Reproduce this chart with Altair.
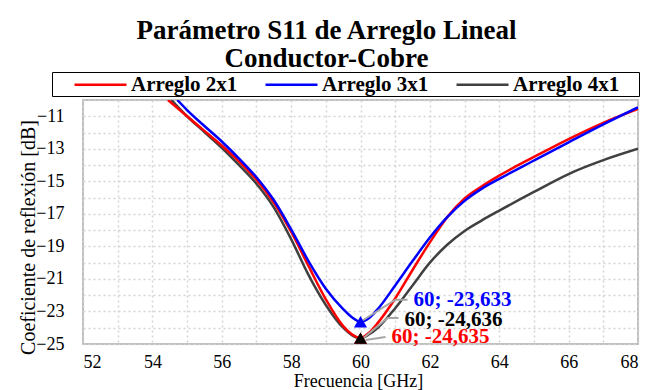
import altair as alt
import pandas as pd

series_names = ["Arreglo 2x1", "Arreglo 3x1", "Arreglo 4x1"]
series_colors = ["#ff0000", "#0000ff", "#404040"]

# Arreglo 2x1 (red)
freq_2x1 = [54.45, 55.0, 55.5, 56.0, 56.5, 57.0, 57.5, 58.0, 58.5, 59.0, 59.5, 59.75, 60.0,
            60.25, 60.5, 61.0, 61.5, 62.0, 62.5, 63.0, 63.5, 64.0, 65.0, 66.0, 67.0, 68.0]
s11_2x1 = [-10.0, -11.0, -11.9, -12.8, -13.78, -14.9, -16.3, -18.1, -20.2, -22.25, -23.9, -24.4, -24.635,
           -24.3, -23.7, -22.2, -20.45, -18.75, -17.2, -16.05, -15.3, -14.65, -13.5, -12.4, -11.4, -10.55]

# Arreglo 3x1 (blue)
freq_3x1 = [54.72, 55.0, 55.5, 56.0, 56.5, 57.0, 57.5, 58.0, 58.5, 59.0, 59.5, 59.75, 60.0,
            60.25, 60.5, 61.0, 61.5, 62.0, 62.5, 63.0, 63.5, 64.0, 65.0, 66.0, 67.0, 68.0]
s11_3x1 = [-10.0, -10.62, -11.6, -12.55, -13.6, -14.75, -16.15, -17.95, -19.9, -21.6, -22.85, -23.35, -23.633,
           -23.4, -22.85, -21.4, -19.9, -18.45, -17.2, -16.2, -15.45, -14.85, -13.72, -12.6, -11.5, -10.45]

# Arreglo 4x1 (dark grey)
freq_4x1 = [54.55, 55.0, 55.5, 56.0, 56.5, 57.0, 57.5, 58.0, 58.5, 59.0, 59.5, 59.75, 60.0,
            60.25, 60.5, 61.0, 61.5, 62.0, 62.5, 63.0, 63.5, 64.0, 65.0, 66.0, 67.0, 68.0]
s11_4x1 = [-10.0, -11.0, -11.97, -12.94, -14.01, -15.15, -16.6, -18.55, -20.75, -22.6, -24.0, -24.45, -24.636,
           -24.4, -24.0, -22.8, -21.4, -20.0, -18.9, -18.05, -17.4, -16.8, -15.65, -14.55, -13.7, -13.0]

# Minimum markers (drawn blue, red, black)
marker_series = ["Arreglo 3x1", "Arreglo 2x1", "Arreglo 4x1"]
marker_freq = [60, 60, 60]
marker_s11 = [-23.633, -24.635, -24.636]
marker_colors = ["#0000ff", "#ff0000", "#000000"]
marker_labels = ["60; -23,633", "60; -24,635", "60; -24,636"]

# label / leader offsets in pixels (style)
label_dx = [53, 31, 44]
label_dy = [-22, -1, -18]
leader_px = [
    [(0, 0), (35, -22), (47, -22)],
    [(5, 2), (25, -1)],
    [(3, 0), (27, -20), (38, -20)],
]

W, H = 555, 244
X_DOM = [52, 68]
Y_DOM = [-25, -10]
px_x = W / (X_DOM[1] - X_DOM[0])
px_y = H / (Y_DOM[1] - Y_DOM[0])

rows = []
for name, fx, fy in [("Arreglo 2x1", freq_2x1, s11_2x1),
                     ("Arreglo 3x1", freq_3x1, s11_3x1),
                     ("Arreglo 4x1", freq_4x1, s11_4x1)]:
    for a, b in zip(fx, fy):
        rows.append({"series": name, "freq": a, "s11": b})
curves = pd.DataFrame(rows)

markers = pd.DataFrame({
    "series": marker_series, "freq": marker_freq, "s11": marker_s11,
    "col": marker_colors, "label": marker_labels,
    "lx": [f + dx / px_x for f, dx in zip(marker_freq, label_dx)],
    "ly": [v - dy / px_y for v, dy in zip(marker_s11, label_dy)],
})

lrows = []
for i, pts in enumerate(leader_px):
    for j, (dx, dy) in enumerate(pts):
        lrows.append({"g": i, "o": j, "freq": marker_freq[i] + dx / px_x,
                      "s11": marker_s11[i] - dy / px_y})
leaders = pd.DataFrame(lrows)

FONT = "Liberation Serif"

x_axis = alt.Axis(values=list(range(52, 69)),
                  labelExpr="datum.value % 2 == 0 ? datum.label : ''",
                  title="Frecuencia [GHz]", titleX=275, titleY=28,
                  labelPadding=9)
y_axis = alt.Axis(values=list(range(-25, -9)),
                  labelExpr="(datum.value + 25) % 2 == 0 ? datum.label : ''",
                  title="Coeficiente de reflexión [dB]", titleX=-45, titleY=137,
                  labelPadding=19)

X = lambda f="freq": alt.X(f"{f}:Q", scale=alt.Scale(domain=X_DOM, nice=False, zero=False), axis=x_axis)
Y = lambda f="s11": alt.Y(f"{f}:Q", scale=alt.Scale(domain=Y_DOM, nice=False, zero=False), axis=y_axis)

legend = alt.Legend(orient="none", legendX=-31, legendY=-28, direction="horizontal",
                    title="\u2002", titleOrient="right", titlePadding=19, titleFontSize=21,
                    symbolType="M-2.6,0H2.6", symbolSize=400, symbolStrokeWidth=2.5,
                    labelFont=FONT, labelFontSize=21, labelFontWeight="bold", labelColor="black",
                    strokeColor="black", fillColor="white", padding=1, symbolOffset=36,
                    columnPadding=6, labelOffset=19, labelLimit=300)
color = alt.Color("series:N", scale=alt.Scale(domain=series_names, range=series_colors), legend=legend)

layers = []
for name in ["Arreglo 4x1", "Arreglo 2x1", "Arreglo 3x1"]:
    layers.append(
        alt.Chart(curves).transform_filter(alt.datum.series == name)
        .mark_line(strokeWidth=2.5, interpolate="monotone", clip=True)
        .encode(x=X(), y=Y(), color=color, order="freq:Q")
    )

lead = alt.Chart(leaders).mark_line(color="#a6a6a6", strokeWidth=2).encode(
    x=X(), y=Y(), detail="g:N", order="o:Q")

pts = alt.Chart(markers).mark_point(shape="triangle-up", filled=True, size=170, opacity=1).encode(
    x=X(), y=Y(), color=alt.Color("col:N", scale=None))

txt = alt.Chart(markers).mark_text(align="left", baseline="middle", font=FONT, fontSize=21,
                                   fontWeight="bold").encode(
    x=X("lx"), y=Y("ly"), text="label:N", color=alt.Color("col:N", scale=None))

chart = alt.layer(*layers, lead, pts, txt).properties(
    width=W, height=H,
    autosize="none",
    background="white",
    padding={"left": 83, "top": 100, "right": 18, "bottom": 46},
    title=alt.TitleParams(["Parámetro S11 de Arreglo Lineal", "Conductor-Cobre"],
                          font=FONT, fontSize=27, fontWeight="bold", color="black",
                          anchor="middle", dx=-34, offset=-1, lineHeight=28, frame="group"),
).configure_view(stroke="#bfbfbf", strokeWidth=2).configure_axis(
    grid=True, gridColor="#d4d4d4", gridDash=[2, 3], gridWidth=1.5,
    domain=False, ticks=False,
    labelFont=FONT, labelFontSize=18, labelColor="black",
    titleFont=FONT, titleFontSize=18, titleFontWeight="normal", titleColor="black",
).configure_axisY(titleFontSize=20)

chart.save("out.html", embed_options={"renderer": "svg", "actions": False})
